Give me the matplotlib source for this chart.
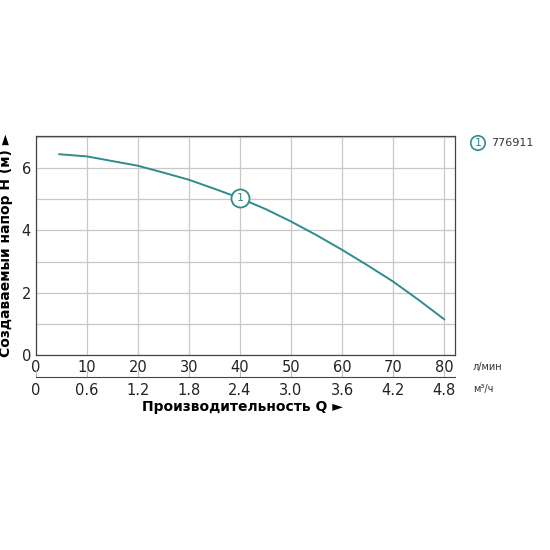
import matplotlib
matplotlib.use("Agg")
import matplotlib.pyplot as plt

flow_lpm = [4.6, 10, 20, 25, 30, 35, 40, 45, 50, 55, 60, 65, 70, 75, 80]
head_m = [6.45, 6.38, 6.08, 5.86, 5.63, 5.34, 5.04, 4.69, 4.29, 3.85, 3.38, 2.88, 2.36, 1.77, 1.15]
x_ticks = [0, 10, 20, 30, 40, 50, 60, 70, 80]
m3h_ticks = [0, 0.6, 1.2, 1.8, 2.4, 3.0, 3.6, 4.2, 4.8]
m3h_labels = ["0", "0.6", "1.2", "1.8", "2.4", "3.0", "3.6", "4.2", "4.8"]
y_ticks = [0, 2, 4, 6]
model = "776911"

teal = "#2f8c8c"
fig = plt.figure(figsize=(5.5, 5.5), dpi=100)
ax = fig.add_axes([0.065, 0.3545, 0.762, 0.3985])
ax.plot(flow_lpm, head_m, color=teal, lw=1.4, zorder=3)
ax.set_xlim(0, 82.1)
ax.set_ylim(0, 7.04)
ax.set_xticks(x_ticks)
ax.set_yticks(y_ticks)
ax.set_yticks([1, 3, 5, 7], minor=True)
ax.grid(True, which="both", color="#c8c8c8", lw=0.9)
ax.tick_params(length=0, labelsize=10.5, colors="#222222", which="both")
for s in ax.spines.values():
    s.set_color("#444444"); s.set_linewidth(0.9)
ax.set_ylabel("Создаваемый напор H (м) ►", fontsize=10, fontweight="bold", labelpad=6)
ax.plot([40], [5.04], 'o', ms=13, mfc="white", mec=teal, mew=1.3, zorder=4)
ax.text(40, 5.04, "1", ha="center", va="center", fontsize=8, color=teal, zorder=5)

ax2 = fig.add_axes([0.065, 0.3145, 0.762, 0.0001])
ax2.set_xlim(0, 82.1 * 0.06)
ax2.set_yticks([])
for k in ["top", "left", "right"]:
    ax2.spines[k].set_visible(False)
ax2.spines["bottom"].set_color("#444444")
ax2.set_xticks(m3h_ticks)
ax2.set_xticklabels(m3h_labels)
ax2.tick_params(axis="x", direction="in", length=5, labelsize=10.5, colors="#bbbbbb",
                labelcolor="#222222", pad=4)

fig.text(0.86, 0.327, "л/мин", fontsize=7, color="#333333")
fig.text(0.86, 0.287, "м³/ч", fontsize=7, color="#333333")
fig.text(0.44, 0.252, "Производительность Q ►", fontsize=10, fontweight="bold", ha="center")
fig.text(0.869, 0.740, "1", fontsize=8, color=teal, ha="center", va="center",
         bbox=dict(boxstyle="circle,pad=0.2", fc="white", ec=teal, lw=1.2))
fig.text(0.893, 0.740, model, fontsize=8, color="#333333", va="center")
fig.savefig("out.png", dpi=100)
